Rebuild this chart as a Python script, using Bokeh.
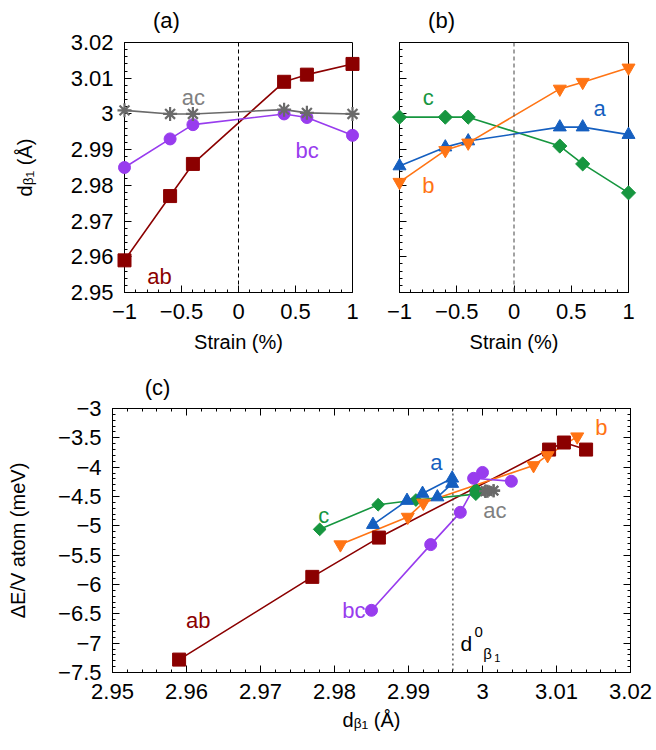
from bokeh.plotting import figure
from bokeh.layouts import column, row
from bokeh.models import FixedTicker, LinearAxis, Span, Label, Range1d
from bokeh.core.properties import value
from bokeh.embed import file_html
from bokeh.resources import INLINE
import numpy as np

FONT = "Liberation Sans"

# ---------------- data ----------------
strain = [-1.0, -0.6, -0.4, 0.4, 0.6, 1.0]

# panel (a): d_beta1 vs strain
d_ab = [2.959, 2.977, 2.986, 3.009, 3.011, 3.014]
d_ac = [3.001, 3.000, 3.000, 3.0012, 3.0003, 3.000]
d_bc = [2.985, 2.993, 2.997, 3.000, 2.999, 2.994]
# panel (b)
d_a = [2.9854, 2.9907, 2.9924, 2.9963, 2.9963, 2.9942]
d_b = [2.9809, 2.9898, 2.9919, 3.0070, 3.0089, 3.0129]
d_c = [2.9991, 2.9991, 2.9991, 2.9910, 2.9860, 2.9779]

# panel (c): energy vs d_beta1
c_ab_d = [2.959, 2.977, 2.986, 3.009, 3.011, 3.014]
c_ab_E = [-7.28, -5.87, -5.20, -3.70, -3.58, -3.70]
c_bc_d = [2.985, 2.993, 2.997, 3.000, 2.9988, 3.0039]
c_bc_E = [-6.44, -5.32, -4.77, -4.09, -4.19, -4.24]
c_ac_d = [3.0015, 3.0004, 3.0004, 3.0015, 3.0007, 3.0004]
c_ac_E = [-4.40, -4.41, -4.41, -4.40, -4.41, -4.41]
c_a_d = [2.9852, 2.9898, 2.9919, 2.9959, 2.9959, 2.9939]
c_a_E = [-4.98, -4.57, -4.45, -4.19, -4.28, -4.51]
c_b_d = [2.9808, 2.9899, 2.9920, 3.0069, 3.0088, 3.0128]
c_b_E = [-5.32, -4.85, -4.61, -3.97, -3.80, -3.48]
c_c_d = [2.9991, 2.9991, 2.9991, 2.9910, 2.9859, 2.9780]
c_c_E = [-4.38, -4.42, -4.46, -4.56, -4.64, -5.06]
d0 = 2.996

# ticks
d_ticks = [2.95, 2.96, 2.97, 2.98, 2.99, 3.0, 3.01, 3.02]
d_labels = ["2.95", "2.96", "2.97", "2.98", "2.99", "3", "3.01", "3.02"]
strain_ticks = [-1.0, -0.5, 0.0, 0.5, 1.0]
strain_labels = ["\u22121", "\u22120.5", "0", "0.5", "1"]
E_ticks = [-7.5, -7.0, -6.5, -6.0, -5.5, -5.0, -4.5, -4.0, -3.5, -3.0]
E_labels = ["\u22127.5", "\u22127", "\u22126.5", "\u22126", "\u22125.5", "\u22125",
            "\u22124.5", "\u22124", "\u22123.5", "\u22123"]
panel_titles = ["(a)", "(b)", "(c)"]

# colours
C_AB = "#8b0000"
C_AC = "#6a6a6a"
C_AC_LBL = "#808080"
C_BC = "#983cee"
C_A = "#155fc0"
C_B = "#ff7414"
C_C = "#16963f"

d_minor = list(np.round(np.arange(2.95, 3.0201, 0.002), 4))
s_minor = list(np.round(np.arange(-1.0, 1.001, 0.1), 3))
E_minor = list(np.round(np.arange(-7.5, -2.99, 0.1), 3))

TICK_PX = "22px"
LABEL_PX = "20px"


def style_axis(ax, ticks, minor, labels, show_labels=True):
    ax.ticker = FixedTicker(ticks=ticks, minor_ticks=minor)
    ax.major_tick_in = 7
    ax.major_tick_out = 0
    ax.minor_tick_in = 3
    ax.minor_tick_out = 0
    ax.axis_line_color = "black"
    ax.major_tick_line_color = "black"
    ax.minor_tick_line_color = "black"
    ax.major_label_text_font = FONT
    if show_labels:
        ax.major_label_overrides = {t: l for t, l in zip(ticks, labels)}
        ax.major_label_text_font_size = TICK_PX
        ax.major_label_text_color = "black"
        ax.major_label_standoff = 11
    else:
        ax.major_label_text_font_size = "0px"
        ax.major_label_text_color = None
        ax.major_label_standoff = 0
    ax.axis_label_text_font = FONT
    ax.axis_label_text_font_size = LABEL_PX
    ax.axis_label_text_font_style = "normal"
    ax.axis_label_text_color = "black"


def base_fig(fw, fh, bl, br, bt, bb, xr, yr):
    p = figure(frame_width=fw, frame_height=fh, x_range=xr, y_range=yr, title=None,
               output_backend="svg", toolbar_location=None, tools="")
    p.min_border_left = bl
    p.min_border_right = br
    p.min_border_top = bt
    p.min_border_bottom = bb
    p.grid.visible = False
    p.outline_line_color = "black"
    p.outline_line_alpha = 1
    p.background_fill_color = "white"
    p.border_fill_color = "white"
    return p


def add_series(p, x, y, color, marker, size, lw=1.6):
    p.line(x, y, line_color=color, line_width=lw)
    if marker == "asterisk":
        r = p.scatter(x, y, marker=marker, size=size, line_color=color, line_width=2.2)
    elif marker == "diamond":
        r = p.scatter(x, y, marker="square", angle=np.pi / 4, size=size,
                      fill_color=color, line_color=color)
    else:
        r = p.scatter(x, y, marker=marker, size=size, fill_color=color, line_color=color)
    r.level = "overlay"


def add_label(p, x, y, text, color, size="22px", align="center"):
    p.add_layout(Label(x=x, y=y, text=text, text_color=color, text_font=FONT,
                       text_font_size=size, text_align=align, text_baseline="middle"))


def add_title(p, x, y, text):
    # glyph text (not clipped when drawn at the overlay level) placed above the frame
    r = p.text(x=[x], y=[y], text=[text], text_font=value(FONT), text_font_size="22px",
               text_color="black", text_align="center", text_baseline="middle")
    r.level = "overlay"


# ---------------- panel (a) ----------------
pa = base_fig(228, 250, 124, 23, 42, 76, Range1d(-1, 1), Range1d(2.95, 3.02))
style_axis(pa.xaxis[0], strain_ticks, s_minor, strain_labels)
style_axis(pa.yaxis[0], d_ticks, d_minor, d_labels)
pa.xaxis[0].axis_label = "Strain (%)"
pa.xaxis[0].axis_label_standoff = 9
pa.yaxis[0].axis_label = "d\u1d66\u2081 (\u00c5)"
pa.yaxis[0].axis_label_standoff = 32
pa.add_layout(Span(location=0, dimension="height", line_color="black",
                   line_dash="4 3", line_width=1))
add_series(pa, strain, d_ab, C_AB, "square", 13)
add_series(pa, strain, d_bc, C_BC, "circle", 12)
add_series(pa, strain, d_ac, C_AC, "asterisk", 14)
add_title(pa, -0.632, 3.0263, panel_titles[0])
add_label(pa, -0.395, 3.0047, "ac", C_AC_LBL)
add_label(pa, 0.603, 2.9898, "bc", C_BC)
add_label(pa, -0.693, 2.9545, "ab", C_AB)

# ---------------- panel (b) ----------------
pb = base_fig(229, 250, 24, 28, 42, 76, Range1d(-1, 1), Range1d(2.95, 3.02))
style_axis(pb.xaxis[0], strain_ticks, s_minor, strain_labels)
style_axis(pb.yaxis[0], d_ticks, d_minor, d_labels, show_labels=False)
pb.xaxis[0].axis_label = "Strain (%)"
pb.xaxis[0].axis_label_standoff = 9
pb.add_layout(Span(location=0, dimension="height", line_color="#444444",
                   line_dash="4 3", line_width=1))
add_series(pb, strain, d_c, C_C, "diamond", 10)
add_series(pb, strain, d_a, C_A, "triangle", 13)
add_series(pb, strain, d_b, C_B, "inverted_triangle", 13)
add_title(pb, -0.633, 3.0263, panel_titles[1])
add_label(pb, -0.749, 3.0047, "c", C_C)
add_label(pb, 0.747, 3.0015, "a", C_A)
add_label(pb, -0.747, 2.980, "b", C_B)

# ---------------- panel (c) ----------------
pc = base_fig(518, 264, 112, 26, 40, 74, Range1d(2.95, 3.02), Range1d(-7.5, -3.0))
style_axis(pc.xaxis[0], d_ticks, d_minor, d_labels)
style_axis(pc.yaxis[0], E_ticks, E_minor, E_labels)
pc.xaxis[0].axis_label = "d\u1d66\u2081 (\u00c5)"
pc.xaxis[0].axis_label_standoff = 7
pc.yaxis[0].axis_label = "\u0394E/V atom (meV)"
pc.yaxis[0].axis_label_standoff = 26
top_ax = LinearAxis()
style_axis(top_ax, d_ticks, d_minor, d_labels, show_labels=False)
right_ax = LinearAxis()
style_axis(right_ax, E_ticks, E_minor, E_labels, show_labels=False)
pc.add_layout(top_ax, "above")
pc.add_layout(right_ax, "right")
pc.add_layout(Span(location=d0, dimension="height", line_color="#333333",
                   line_dash="2 3", line_width=1.2))
add_series(pc, c_ab_d, c_ab_E, C_AB, "square", 13)
add_series(pc, c_c_d, c_c_E, C_C, "diamond", 9)
add_series(pc, c_a_d, c_a_E, C_A, "triangle", 13)
add_series(pc, c_b_d, c_b_E, C_B, "inverted_triangle", 13)
add_series(pc, c_bc_d, c_bc_E, C_BC, "circle", 12)
add_series(pc, c_ac_d, c_ac_E, C_AC, "asterisk", 13)
add_title(pc, 2.95608, -2.642, panel_titles[2])
add_label(pc, 2.9616, -6.62, "ab", C_AB)
add_label(pc, 2.9842, -6.44, "bc", C_BC, align="right")
add_label(pc, 2.97856, -4.82, "c", C_C)
add_label(pc, 2.99378, -3.925, "a", C_A)
add_label(pc, 3.00166, -4.74, "ac", C_AC_LBL)
add_label(pc, 3.01605, -3.32, "b", C_B)
# d^0_{beta1} annotation
add_label(pc, 2.99703, -7.00, "d", "black", size="21px", align="left")
add_label(pc, 2.99892, -6.816, "0", "black", size="15px", align="left")
add_label(pc, 3.00010, -7.18, "\u03b2", "black", size="15px", align="left")
add_label(pc, 3.00160, -7.25, "1", "black", size="11px", align="left")

layout = column(row(pa, pb), pc)
open("out.html", "w").write(file_html(layout, INLINE))
